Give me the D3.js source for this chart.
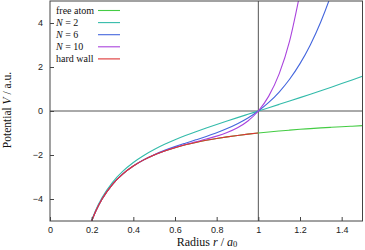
<!DOCTYPE html>
<html><head><meta charset="utf-8">
<script src="https://cdn.jsdelivr.net/npm/d3@7"></script>
<style>body{margin:0;background:#fff}svg{display:block}</style>
</head><body><svg id="c" width="365" height="250"></svg>
<script>
// Radius values (r / a0)
const radius = [0.2,0.22,0.25,0.3,0.35,0.4,0.45,0.5,0.55,0.6,0.65,0.7,0.75,0.8,0.85,0.9,0.95,1.0,1.05,1.1,1.15,1.2,1.25,1.3,1.35,1.4,1.45,1.5];
const freeAtom = [-5.0,-4.545,-4.0,-3.333,-2.857,-2.5,-2.222,-2.0,-1.818,-1.667,-1.538,-1.429,-1.333,-1.25,-1.176,-1.111,-1.053,-1.0,-0.952,-0.909,-0.870,-0.833,-0.8,-0.769,-0.741,-0.714,-0.690,-0.667];
const n2 = [-4.96,-4.497,-3.938,-3.243,-2.735,-2.34,-2.02,-1.75,-1.516,-1.307,-1.116,-0.939,-0.771,-0.61,-0.454,-0.301,-0.15,0.0,0.15,0.301,0.453,0.607,0.763,0.921,1.082,1.246,1.413,1.583];
const n6 = [-5.0,-4.545,-4.0,-3.332,-2.855,-2.496,-2.214,-1.984,-1.79,-1.62,-1.463,-1.311,-1.155,-0.988,-0.799,-0.58,-0.318,0.0,0.388,0.863,1.443,2.153,3.015,4.058,5.312,6.815,null,null];
const n10 = [-5.0,-4.545,-4.0,-3.333,-2.857,-2.5,-2.222,-1.999,-1.816,-1.661,-1.525,-1.401,-1.277,-1.143,-0.979,-0.762,-0.454,0.0,0.677,1.685,3.176,5.358,null,null,null,null,null,null];
const hardWallR = [0.2,0.22,0.25,0.3,0.35,0.4,0.45,0.5,0.55,0.6,0.65,0.7,0.75,0.8,0.85,0.9,0.95,1.0,1.0];
const hardWallV = [-5.0,-4.545,-4.0,-3.333,-2.857,-2.5,-2.222,-2.0,-1.818,-1.667,-1.538,-1.429,-1.333,-1.25,-1.176,-1.111,-1.053,-1.0,5.0];
const seriesNames = ["free atom","N = 2","N = 6","N = 10","hard wall"];
const seriesColors = ["#44cc44","#33bbaa","#4466dd","#aa44dd","#dd3333"];
const xTicks = [0,0.2,0.4,0.6,0.8,1,1.2,1.4];
const yTicks = [-4,-2,0,2,4];

const svg = d3.select("#c");
const L=50, R=362.5, T=1, B=221;
const x = d3.scaleLinear().domain([0,1.5]).range([L,R]);
const y = d3.scaleLinear().domain([-5,5]).range([B,T]);

svg.append("defs").append("clipPath").attr("id","clip")
  .append("rect").attr("x",L).attr("y",T).attr("width",R-L).attr("height",B-T);

// zero axes
svg.append("line").attr("x1",L).attr("x2",R).attr("y1",y(0)).attr("y2",y(0)).attr("stroke","#555").attr("stroke-width",1);
svg.append("line").attr("x1",x(1)).attr("x2",x(1)).attr("y1",T).attr("y2",B).attr("stroke","#555").attr("stroke-width",1);

const mk = (xs, vs) => xs.map((r,i)=>[r,vs[i]]).filter(d=>d[1]!==null);
const data = [mk(radius,freeAtom), mk(radius,n2), mk(radius,n6), mk(radius,n10), mk(hardWallR,hardWallV)];
const line = d3.line().x(d=>x(d[0])).y(d=>y(d[1])).curve(d3.curveMonotoneX);
const lineStraight = d3.line().x(d=>x(d[0])).y(d=>y(d[1]));
const g = svg.append("g").attr("clip-path","url(#clip)");
data.forEach((d,i)=>{
  let path;
  if(i===4){
    const curvePart = d.slice(0,d.length-1);
    path = line(curvePart) + lineStraight([d[d.length-2], d[d.length-1]]).replace(/^M[^L]*/, "L");
  } else path = line(d);
  g.append("path").attr("d",path).attr("fill","none").attr("stroke",seriesColors[i]).attr("stroke-width",1.1);
});

// border
svg.append("rect").attr("x",L).attr("y",T).attr("width",R-L).attr("height",B-T).attr("fill","none").attr("stroke","#444").attr("stroke-width",1);

// axes (ticks inward)
const xa = svg.append("g").attr("transform",`translate(0,${B})`)
  .call(d3.axisBottom(x).tickValues(xTicks).tickSize(-4).tickPadding(6).tickFormat(d3.format("")));
const ya = svg.append("g").attr("transform",`translate(${L},0)`)
  .call(d3.axisLeft(y).tickValues(yTicks).tickSize(-4).tickPadding(7).tickFormat(d=>d<0?"\u2212"+(-d):d));
[xa,ya].forEach(a=>{
  a.select(".domain").remove();
  a.selectAll(".tick line").attr("stroke","#444");
  a.selectAll("text").attr("font-family","'Liberation Sans', Arial, sans-serif").attr("font-size",9).attr("fill","#222");
});

// legend
const lg = svg.append("g");
seriesNames.forEach((n,i)=>{
  const yy = 10.5 + i*12.1;
  const t = lg.append("text").attr("x",56).attr("y",yy+3.5).attr("font-family","'Liberation Serif', 'Times New Roman', serif").attr("font-size",10).attr("fill","#111");
  if(n.startsWith("N")){
    t.append("tspan").attr("font-style","italic").text("N");
    t.append("tspan").text(n.slice(1));
  } else t.text(n);
  lg.append("line").attr("x1",98).attr("x2",120).attr("y1",yy).attr("y2",yy).attr("stroke",seriesColors[i]).attr("stroke-width",1.1);
});

// axis labels
const xl = svg.append("text").attr("x",207).attr("y",245.5).attr("text-anchor","middle")
  .attr("font-family","'Liberation Serif', 'Times New Roman', serif").attr("font-size",12).attr("fill","#111");
xl.append("tspan").text("Radius ");
xl.append("tspan").attr("font-style","italic").text("r");
xl.append("tspan").text(" / ");
xl.append("tspan").attr("font-style","italic").text("a");
xl.append("tspan").attr("font-size",8.5).attr("dy",1.8).text("0");
const yl = svg.append("text").attr("transform","translate(11,110) rotate(-90)").attr("text-anchor","middle")
  .attr("font-family","'Liberation Serif', 'Times New Roman', serif").attr("font-size",11.5).attr("fill","#111");
yl.append("tspan").text("Potential ");
yl.append("tspan").attr("font-style","italic").text("V");
yl.append("tspan").text(" / a.u.");
</script></body></html>
